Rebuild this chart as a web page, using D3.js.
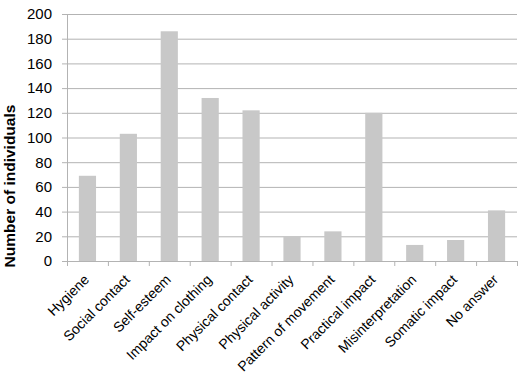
<!DOCTYPE html>
<html>
<head>
<meta charset="utf-8">
<script src="https://cdn.jsdelivr.net/npm/d3@7"></script>
<style>
body { margin: 0; background: #fff; }
svg { font-family: "Liberation Sans", Arial, sans-serif; }
</style>
</head>
<body>
<svg width="522" height="388"></svg>
<script>
var categories = ["Hygiene", "Social contact", "Self-esteem", "Impact on clothing", "Physical contact",
    "Physical activity", "Pattern of movement", "Practical impact", "Misinterpretation", "Somatic impact", "No answer"];
var counts = [69, 103, 186, 132, 122, 20, 24, 120, 13, 17, 41];
var yTicks = [0, 20, 40, 60, 80, 100, 120, 140, 160, 180, 200];

var svg = d3.select("svg"),
    margin = {top: 14, right: 5, bottom: 127, left: 67},
    width = +svg.attr("width") - margin.left - margin.right,
    height = +svg.attr("height") - margin.top - margin.bottom,
    g = svg.append("g").attr("transform", "translate(" + margin.left + "," + margin.top + ")");

var x = d3.scaleBand().domain(categories).range([0, width]).paddingInner(0.58).paddingOuter(0.29);
var y = d3.scaleLinear().domain([0, 200]).range([height, 0]);

// gridlines
g.selectAll(".grid")
    .data(yTicks.slice(1))
    .enter().append("line")
    .attr("x1", 0).attr("x2", width)
    .attr("y1", function(d) { return y(d) + 0.5; })
    .attr("y2", function(d) { return y(d) + 0.5; })
    .attr("stroke", "#b3b3b3");

g.selectAll(".bar")
    .data(counts)
    .enter().append("rect")
    .attr("x", function(d, i) { return x(categories[i]); })
    .attr("y", function(d) { return y(d); })
    .attr("width", x.bandwidth())
    .attr("height", function(d) { return height - y(d); })
    .attr("fill", "#c8c8c8");

// y axis
var yAxis = g.append("g")
    .call(d3.axisLeft(y).tickValues(yTicks).tickSize(5).tickPadding(10));
yAxis.select(".domain").attr("stroke", "#b3b3b3");
yAxis.selectAll(".tick line").attr("stroke", "#b3b3b3");
yAxis.selectAll(".tick text").attr("font-size", 15).attr("fill", "#000");

// x axis with ticks at category boundaries
var bounds = d3.range(categories.length + 1).map(function(i) { return i * width / categories.length; });
g.append("line")
    .attr("x1", 0).attr("x2", width)
    .attr("y1", height + 0.5).attr("y2", height + 0.5)
    .attr("stroke", "#b3b3b3");
g.selectAll(".xtick")
    .data(bounds)
    .enter().append("line")
    .attr("x1", function(d) { return d + 0.5; })
    .attr("x2", function(d) { return d + 0.5; })
    .attr("y1", height).attr("y2", height + 5)
    .attr("stroke", "#b3b3b3");

g.selectAll(".xlabel")
    .data(categories)
    .enter().append("text")
    .attr("transform", function(d) {
        return "translate(" + (x(d) + x.bandwidth() / 2 - 1) + "," + (height + 16) + ") rotate(-45)";
    })
    .attr("text-anchor", "end")
    .attr("font-size", 14)
    .attr("dy", "0.35em")
    .text(function(d) { return d; });

svg.append("text")
    .attr("transform", "translate(15,186) rotate(-90)")
    .attr("text-anchor", "middle")
    .attr("font-size", 15.5)
    .attr("font-weight", "bold")
    .text("Number of individuals");
</script>
</body>
</html>
